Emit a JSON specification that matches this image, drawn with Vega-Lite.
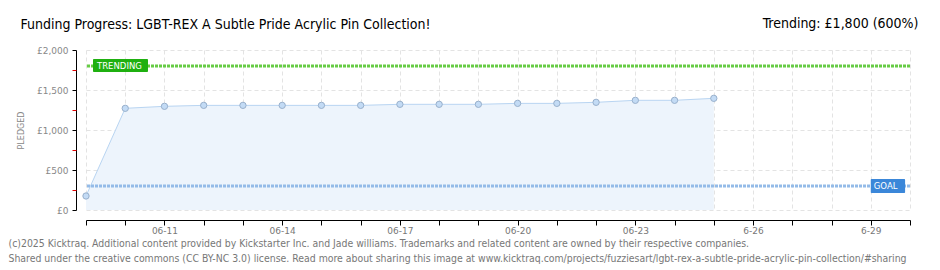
{
  "$schema": "https://vega.github.io/schema/vega-lite/v6.json",
  "width": 824,
  "height": 160,
  "autosize": {"type": "none"},
  "padding": {"left": 86, "top": 50, "right": 30, "bottom": 60},
  "background": "white",
  "config": {"view": {"stroke": null}, "font": "DejaVu Sans Condensed"},
  "data": {
    "values": [
      {"date": "2025-06-09", "pledged": 175},
      {"date": "2025-06-10", "pledged": 1271},
      {"date": "2025-06-11", "pledged": 1296},
      {"date": "2025-06-12", "pledged": 1308},
      {"date": "2025-06-13", "pledged": 1308},
      {"date": "2025-06-14", "pledged": 1308},
      {"date": "2025-06-15", "pledged": 1308},
      {"date": "2025-06-16", "pledged": 1308},
      {"date": "2025-06-17", "pledged": 1321},
      {"date": "2025-06-18", "pledged": 1321},
      {"date": "2025-06-19", "pledged": 1321},
      {"date": "2025-06-20", "pledged": 1333},
      {"date": "2025-06-21", "pledged": 1333},
      {"date": "2025-06-22", "pledged": 1346},
      {"date": "2025-06-23", "pledged": 1371},
      {"date": "2025-06-24", "pledged": 1371},
      {"date": "2025-06-25", "pledged": 1396}
    ]
  },
  "layer": [
    {
      "mark": {"type": "area", "color": "#edf4fc", "opacity": 1, "line": {"color": "#b9d5f2", "strokeWidth": 1}},
      "encoding": {
        "x": {
          "field": "date", "type": "temporal",
          "scale": {"type": "utc", "domain": [{"year": 2025, "month": 6, "date": 9, "utc": true}, {"year": 2025, "month": 6, "date": 30, "utc": true}]},
          "axis": {
            "orient": "bottom", "offset": 10,
            "tickCount": {"interval": "day", "step": 1},
            "grid": true, "gridDash": [4, 3], "gridColor": "#e3e3e3",
            "domainColor": "#000", "tickColor": "#000", "tickSize": 5,
            "labelExpr": "indexof([11,14,17,20,23], utcdate(datum.value)) >= 0 ? utcFormat(datum.value, '%m-%d') : (indexof([26,29], utcdate(datum.value)) >= 0 ? '6-' + utcdate(datum.value) : '')",
            "labelFont": "DejaVu Sans", "labelFontSize": 9, "labelColor": "#777", "labelPadding": 1,
            "labelFlush": false, "labelOverlap": false,
            "title": ["(c)2025 Kicktraq. Additional content provided by Kickstarter Inc. and Jade williams. Trademarks and related content are owned by their respective companies.", "Shared under the creative commons (CC BY-NC 3.0) license. Read more about sharing this image at www.kicktraq.com/projects/fuzziesart/lgbt-rex-a-subtle-pride-acrylic-pin-collection/#sharing"],
            "titleX": -78, "titleY": 26, "titleAlign": "left", "titleAnchor": "start", "titleBaseline": "alphabetic",
            "titleFont": "DejaVu Sans Condensed", "titleFontSize": 10.4, "titleFontWeight": "normal", "titleColor": "#777", "titleLineHeight": 15
          }
        },
        "y": {
          "field": "pledged", "type": "quantitative",
          "scale": {"domain": [0, 2000], "nice": false},
          "axis": {
            "orient": "left", "offset": 10, "values": [0, 500, 1000, 1500, 2000],
            "grid": true, "gridDash": [4, 3], "gridColor": "#e3e3e3",
            "domainColor": "#000", "tickColor": "#000", "tickSize": 4,
            "labelExpr": "'£' + format(datum.value, ',')",
            "labelFont": "DejaVu Sans", "labelFontSize": 9, "labelColor": "#888", "labelPadding": 4,
            "title": "PLEDGED", "titleFont": "DejaVu Sans", "titleFontSize": 8, "titleColor": "#888", "titleFontWeight": "normal",
            "titleX": -51, "titleY": 80, "titleAlign": "center", "titleBaseline": "bottom"
          }
        }
      }
    },
    {
      "mark": {"type": "circle", "size": 40, "fill": "#c3dbf5", "stroke": "#98b0cc", "strokeWidth": 1, "opacity": 1},
      "encoding": {
        "x": {"field": "date", "type": "temporal", "axis": null},
        "y": {"field": "pledged", "type": "quantitative", "axis": null}
      }
    },
    {
      "data": {"values": [{}]},
      "mark": {"type": "rule", "color": "#94bbe8", "strokeWidth": 3, "strokeDash": [3, 1]},
      "encoding": {"y": {"datum": 300, "type": "quantitative", "axis": null}}
    },
    {
      "data": {"values": [{}]},
      "mark": {"type": "rule", "color": "#66cc44", "strokeWidth": 3, "strokeDash": [3, 1]},
      "encoding": {"y": {"datum": 1800, "type": "quantitative", "axis": null}}
    },
    {
      "data": {"values": [{"label": "TRENDING"}]},
      "mark": {"type": "rect", "color": "#1fb010", "cornerRadius": 1},
      "encoding": {
        "x": {"datum": {"year": 2025, "month": 6, "date": 9, "hours": 4, "minutes": 17, "utc": true}, "type": "temporal", "axis": null},
        "x2": {"datum": {"year": 2025, "month": 6, "date": 10, "hours": 13, "minutes": 55, "utc": true}},
        "y": {"datum": 1887, "type": "quantitative", "axis": null},
        "y2": {"datum": 1725}
      }
    },
    {
      "data": {"values": [{"label": "TRENDING"}]},
      "mark": {"type": "text", "color": "white", "font": "DejaVu Sans", "fontSize": 8.5, "align": "left", "baseline": "middle", "dx": 4},
      "encoding": {
        "x": {"datum": {"year": 2025, "month": 6, "date": 9, "hours": 4, "minutes": 17, "utc": true}, "type": "temporal", "axis": null},
        "y": {"datum": 1806, "type": "quantitative", "axis": null},
        "text": {"field": "label"}
      }
    },
    {
      "data": {"values": [{"label": "GOAL"}]},
      "mark": {"type": "rect", "color": "#3b87d9", "cornerRadius": 1},
      "encoding": {
        "x": {"datum": {"year": 2025, "month": 6, "date": 29, "hours": 0, "utc": true}, "type": "temporal", "axis": null},
        "x2": {"datum": {"year": 2025, "month": 6, "date": 29, "hours": 21, "utc": true}},
        "y": {"datum": 387, "type": "quantitative", "axis": null},
        "y2": {"datum": 212}
      }
    },
    {
      "data": {"values": [{"label": "GOAL"}]},
      "mark": {"type": "text", "color": "white", "font": "DejaVu Sans", "fontSize": 8.5, "align": "left", "baseline": "middle", "dx": 3},
      "encoding": {
        "x": {"datum": {"year": 2025, "month": 6, "date": 29, "hours": 0, "utc": true}, "type": "temporal", "axis": null},
        "y": {"datum": 300, "type": "quantitative", "axis": null},
        "text": {"field": "label"}
      }
    },
    {
      "mark": {"type": "point", "opacity": 0},
      "encoding": {
        "x": {
          "field": "date", "type": "temporal",
          "axis": {
            "orient": "top", "domain": false, "ticks": false, "labels": false, "grid": false,
            "title": "Trending: £1,800 (600%)",
            "titleX": 832, "titleY": -23, "titleAlign": "right", "titleBaseline": "alphabetic",
            "titleFont": "DejaVu Sans Condensed", "titleFontSize": 14, "titleFontWeight": "normal", "titleColor": "#000"
          }
        },
        "y": {
          "field": "pledged", "type": "quantitative",
          "axis": {
            "orient": "left", "offset": 10, "values": [250, 750, 1250, 1750],
            "domain": false, "labels": false, "grid": false, "tickColor": "#e00000", "tickSize": 4,
            "title": "Funding Progress: LGBT-REX A Subtle Pride Acrylic Pin Collection!",
            "titleAngle": 0, "titleX": -56, "titleY": -22, "titleAlign": "left", "titleBaseline": "alphabetic",
            "titleFont": "DejaVu Sans Condensed", "titleFontSize": 14, "titleFontWeight": "normal", "titleColor": "#000"
          }
        }
      }
    }
  ],
  "resolve": {"axis": {"x": "independent", "y": "independent"}}
}
